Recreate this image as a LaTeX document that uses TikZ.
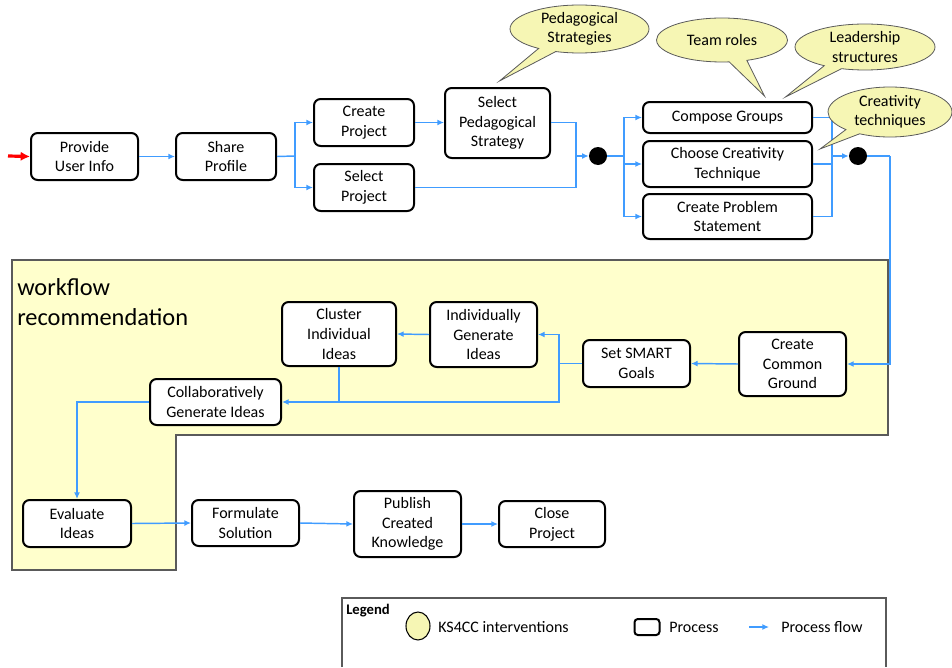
\documentclass[tikz,border=0pt]{standalone}
\usepackage{fontspec}
\setmainfont{Carlito}
\usetikzlibrary{arrows.meta,shapes.geometric,shapes.callouts,calc}
\definecolor{flowblue}{RGB}{64,156,255}
\definecolor{regionyellow}{RGB}{255,255,204}
\definecolor{calloutyellow}{RGB}{246,246,180}
\definecolor{framegray}{RGB}{90,90,90}
\begin{document}
\begin{tikzpicture}[x=0.75pt,y=-0.75pt,
  sz/.style 2 args={minimum width=#1*0.75pt,minimum height=#2*0.75pt},
  proc/.style={draw=black,line width=1.5pt,rounded corners=5pt,fill=white,align=center,
    inner sep=1pt,font=\fontsize{12}{14.8}\selectfont},
  flow/.style={draw=flowblue,line width=1.1pt,-{Latex[length=5pt,width=4.5pt]}},
  fline/.style={draw=flowblue,line width=1.1pt},
  dot/.style={circle,fill=black,inner sep=0pt,minimum size=13.5pt},
  bubble/.style={ellipse callout,draw=framegray,line width=0.6pt,fill=calloutyellow,align=center,
    inner sep=0pt,font=\fontsize{12}{14.5}\selectfont,callout pointer arc=16},
  lgtext/.style={anchor=west,inner sep=0pt,font=\fontsize{12}{14}\selectfont}]
\useasboundingbox (0,0) rectangle (952,667);

% workflow region
\draw[fill=regionyellow,draw=framegray,line width=1.2pt]
  (12,260) -- (888,260) -- (888,435) -- (176,435) -- (176,570) -- (12,570) -- cycle;
\node[anchor=north west,align=left,inner sep=0pt,font=\fontsize{18.3}{22.5}\selectfont]
  (wr) at (17,278) {workflow\\recommendation};

% process nodes
\node[proc,sz={107}{47}] (pu) at (84.5,156.5) {Provide\\User Info};
\node[proc,sz={100}{47}] (sp) at (226,156.5) {Share\\Profile};
\node[proc,sz={100}{47}] (cp) at (364,122.5) {Create\\Project};
\node[proc,sz={100}{47}] (selp) at (364,187.5) {Select\\Project};
\node[proc,sz={105}{70}] (ps) at (497.5,123) {Select\\Pedagogical\\Strategy};
\node[dot] (d1) at (598,156) {};
\node[proc,sz={169}{31}] (cg) at (727.5,117.5) {Compose Groups};
\node[proc,sz={169}{46}] (cct) at (727.5,164) {Choose Creativity\\Technique};
\node[proc,sz={169}{45}] (cps) at (727.5,216.5) {Create Problem\\Statement};
\node[dot] (d2) at (858,156) {};

\node[proc,sz={107}{64}] (ccg) at (792.5,364) {Create\\Common\\Ground};
\node[proc,sz={107}{47}] (sm) at (636.5,363.5) {Set SMART\\Goals};
\node[proc,sz={107}{65}] (ig) at (483.5,334.5) {Individually\\Generate\\Ideas};
\node[proc,sz={114}{64}] (ci) at (339,334) {Cluster\\Individual\\Ideas};
\node[proc,sz={131}{46}] (cgi) at (215.5,402) {Collaboratively\\Generate Ideas};
\node[proc,sz={108}{47}] (ev) at (77,523.5) {Evaluate\\Ideas};
\node[proc,sz={107}{46}] (fs) at (245.5,523) {Formulate\\Solution};
\node[proc,sz={107}{66}] (pk) at (407.5,524) {Publish\\Created\\Knowledge};
\node[proc,sz={106}{46}] (close) at (552,524) {Close\\Project};

% connectors
\coordinate (start) at (8,156);
\draw[draw=red,line width=2.4pt,-{Latex[length=7pt,width=7pt]}] (start) -- (pu.west);
\draw[flow] (pu.east) -- (sp.west);
\coordinate (f1) at (295,156);
\draw[fline] (sp.east) -- (f1);
\draw[flow] (f1) |- (cp.west);
\draw[flow] (f1) |- (selp.west);
\draw[flow] (cp.east) -- (cp.east -| ps.west);
\coordinate (j1) at (576,156);
\draw[fline] (ps.east |- cp.east) -| (j1);
\draw[fline] (selp.east) -| (j1);
\draw[flow] (j1) -- (d1.west);
\coordinate (f2) at (624,156);
\draw[fline] (d1.east) -- (f2);
\draw[flow] (f2) |- (cg.west);
\draw[flow] (f2) |- (cct.west);
\draw[flow] (f2) |- (cps.west);
\coordinate (j2) at (832,156);
\draw[fline] (cg.east) -| (j2);
\draw[fline] (cct.east) -| (j2);
\draw[fline] (cps.east) -| (j2);
\draw[flow] (j2) -- (d2.west);
\coordinate (t2) at (890,156);
\draw[fline] (d2.east) -- (t2);
\draw[flow] (t2) |- (ccg.east);
\draw[flow] (ccg.west) -- (sm.east);
\coordinate (f3) at (559,363.5);
\draw[fline] (sm.west) -- (f3);
\draw[flow] (f3) |- (ig.east);
\draw[flow] (f3) |- (cgi.east);
\draw[flow] (ig.west) -- (ci.east);
\draw[fline] (ci.south) -- (ci.south |- cgi.east);
\draw[flow] (cgi.west) -| (ev.north);
\draw[flow] (ev.east) -- (fs.west);
\draw[flow] (fs.east) -- (pk.west);
\draw[flow] (pk.east) -- (close.west);

% callouts
\node[bubble,sz={139}{48},callout absolute pointer={($(ps.north)+(2,-6)$)}] (bps) at (579.5,29) {Pedagogical\\Strategies};
\node[bubble,sz={131}{44},callout absolute pointer={($(cg.north)+(37,-5)$)}] (btr) at (722,40) {Team roles};
\node[bubble,sz={140}{46},callout absolute pointer={($(cg.north)+(58,-4)$)}] (bls) at (865,47) {Leadership\\structures};
\node[bubble,sz={124}{50},callout absolute pointer={($(cct.north east)+(7,9)$)}] (bct) at (890,112) {Creativity\\techniques};

% legend
\draw[draw=framegray,line width=1pt] (342,667) -- (342,598) -- (886,598) -- (886,667);
\node[anchor=west,inner sep=0pt,font=\bfseries\fontsize{11}{13}\selectfont] (lgt) at (346,611) {Legend};
\node[ellipse,draw=black,line width=0.8pt,fill=calloutyellow,sz={24}{28},inner sep=0pt] (lgc) at (418,626) {};
\node[lgtext] (lgk) at (438,627) {KS4CC interventions};
\node[draw=black,line width=1.5pt,rounded corners=2.5pt,sz={25}{16},inner sep=0pt] (lgp) at (647,627) {};
\node[lgtext] (lgpt) at (669,627) {Process};
\coordinate (lga) at (749,627);
\coordinate (lgb) at (769,627);
\draw[flow] (lga) -- (lgb);
\node[lgtext] (lgf) at (781,627) {Process flow};
\end{tikzpicture}
\end{document}
